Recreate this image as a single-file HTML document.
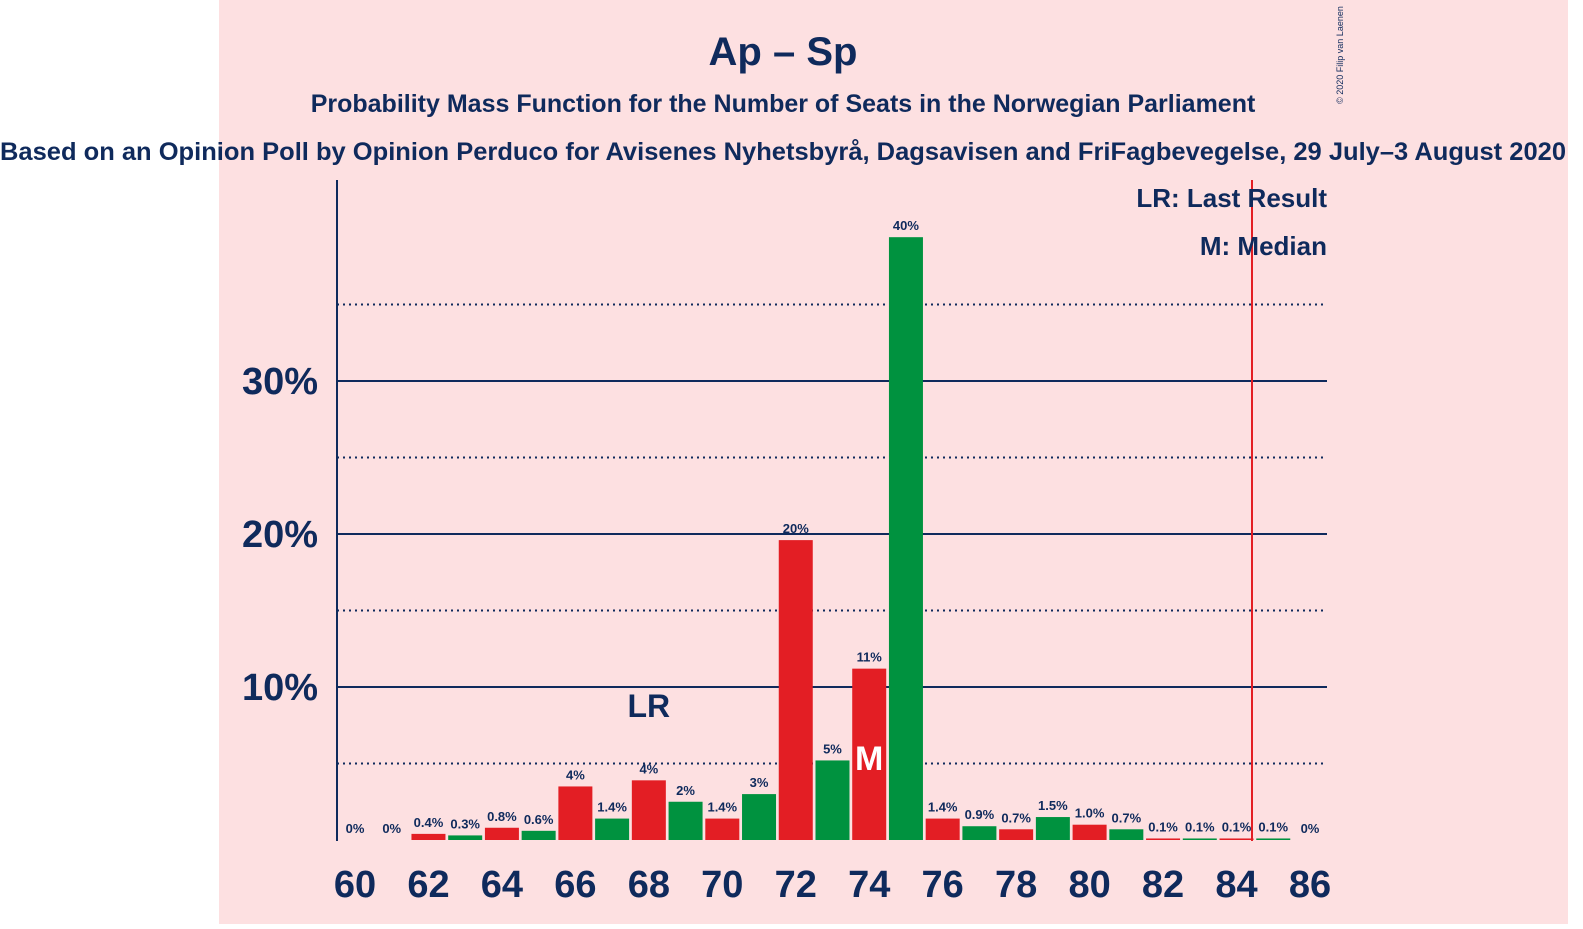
<!DOCTYPE html>
<html><head><meta charset="utf-8"><style>
body{margin:0;width:1583px;height:924px;background:#fff;overflow:hidden;font-family:"Liberation Sans",sans-serif}
</style></head><body>
<svg width="1583" height="924" xmlns="http://www.w3.org/2000/svg">
<rect x="219" y="0" width="1349" height="924" fill="#fde0e1"/>
<text x="783" y="65" text-anchor="middle" font-size="40" font-weight="bold" fill="#0f2a5c">Ap – Sp</text>
<text x="783" y="112" text-anchor="middle" font-size="25" font-weight="bold" fill="#0f2a5c">Probability Mass Function for the Number of Seats in the Norwegian Parliament</text>
<text x="783" y="160" text-anchor="middle" font-size="25" font-weight="bold" fill="#0f2a5c" textLength="1566" lengthAdjust="spacingAndGlyphs">Based on an Opinion Poll by Opinion Perduco for Avisenes Nyhetsbyrå, Dagsavisen and FriFagbevegelse, 29 July–3 August 2020</text>
<text x="1343" y="55" text-anchor="middle" font-size="9" fill="#0f2a5c" transform="rotate(-90 1343 55)">© 2020 Filip van Laenen</text>
<g id="grid"></g>
<g id="bars"></g>
<line x1="337" y1="180" x2="337" y2="841" stroke="#0f2a5c" stroke-width="2"/>
<line x1="1252" y1="180" x2="1252" y2="841" stroke="#e31e24" stroke-width="2"/>
<text x="1327" y="207" text-anchor="end" font-size="26" font-weight="bold" fill="#0f2a5c">LR: Last Result</text>
<text x="1327" y="255" text-anchor="end" font-size="26" font-weight="bold" fill="#0f2a5c">M: Median</text>
</svg>
<script>
const seats=[60,61,62,63,64,65,66,67,68,69,70,71,72,73,74,75,76,77,78,79,80,81,82,83,84,85,86];
const probs=[0,0,0.4,0.3,0.8,0.6,3.5,1.4,3.9,2.5,1.4,3.0,19.6,5.2,11.2,39.4,1.4,0.9,0.7,1.5,1.0,0.7,0.1,0.1,0.1,0.1,0];
const labels=["0%","0%","0.4%","0.3%","0.8%","0.6%","4%","1.4%","4%","2%","1.4%","3%","20%","5%","11%","40%","1.4%","0.9%","0.7%","1.5%","1.0%","0.7%","0.1%","0.1%","0.1%","0.1%","0%"];
const yTicks=[10,20,30];
const yDotted=[5,15,25,35];
const xTicks=[60,62,64,66,68,70,72,74,76,78,80,82,84,86];
const lastResult=68, median=74;
const NS="http://www.w3.org/2000/svg";
const x=s=>355+(s-60)*36.73;
const y=v=>840-v*15.3;
const grid=document.getElementById('grid'), bars=document.getElementById('bars');
function mk(tag,attrs,parent){const e=document.createElementNS(NS,tag);for(const k in attrs)e.setAttribute(k,attrs[k]);parent.appendChild(e);return e;}
yDotted.forEach(v=>{const l=mk('line',{x1:337,x2:1327,y1:y(v),y2:y(v),stroke:'#0f2a5c','stroke-width':2,'stroke-dasharray':'2,4'},grid);

});
yTicks.forEach(v=>{const l=mk('line',{x1:337,x2:1327,y1:y(v),y2:y(v),stroke:'#0f2a5c','stroke-width':2},grid);


const t=mk('text',{x:318,y:y(v)+13,'text-anchor':'end','font-size':38,'font-weight':'bold',fill:'#0f2a5c'},grid);t.textContent=v+'%';

});
xTicks.forEach(s=>{const t=mk('text',{x:x(s),y:897,'text-anchor':'middle','font-size':38,'font-weight':'bold',fill:'#0f2a5c'},grid);t.textContent=s;

});
seats.forEach((s,i)=>{const v=probs[i];
if(v>0){const r=mk('rect',{x:x(s)-17,y:y(v),width:34,height:840-y(v),fill:s%2?'#00923f':'#e31e24'},bars);

}
const t=mk('text',{x:x(s),y:y(v)-7,'text-anchor':'middle','font-size':13,'font-weight':'bold',fill:'#0f2a5c'},bars);t.textContent=labels[i];

});
const lr=mk('text',{x:x(lastResult),y:717,'text-anchor':'middle','font-size':32,'font-weight':'bold',fill:'#0f2a5c'},bars);lr.textContent='LR';


const m=mk('text',{x:x(median),y:770,'text-anchor':'middle','font-size':34,'font-weight':'bold',fill:'#fff'},bars);m.textContent='M';


</script>
</body></html>
